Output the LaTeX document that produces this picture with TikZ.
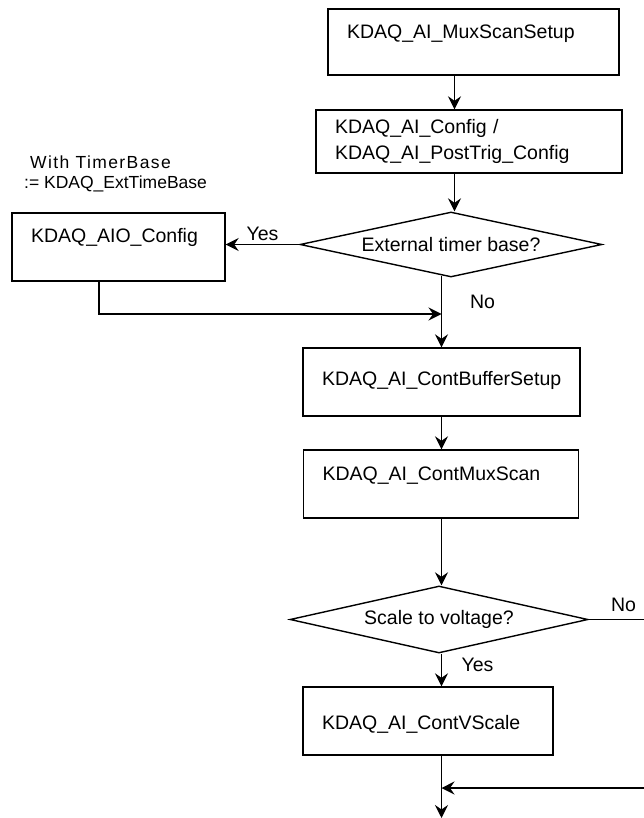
\documentclass[tikz,border=0pt]{standalone}
\usepackage{fontspec}
\setmainfont{Liberation Sans}
\usetikzlibrary{shapes.geometric,arrows.meta}

\tikzset{
  box/.style={draw, rectangle, line width=1.4pt, inner xsep=19pt, inner ysep=0pt, align=left},
  choice/.style={draw, diamond, line width=1.4pt, inner sep=0pt, shape aspect=4.6},
  flow/.style={->, line width=1.4pt}
}

\begin{document}
\begin{tikzpicture}[x=1pt,y=-1pt,>={Stealth[length=13pt,width=13pt,inset=4.5pt]},
  every node/.style={font=\fontsize{19.5}{26}\selectfont}]
  \useasboundingbox (0,0) rectangle (644,818);
  \node[box,text width=253pt,text height=30pt,text depth=36pt] (mux) at (473.5,42) {KDAQ\_AI\_MuxScanSetup};
  \node[box,text width=268pt,minimum height=63pt] (cfg) at (469,141.5) {KDAQ\_AI\_Config /\\KDAQ\_AI\_PostTrig\_Config};
  \node[choice,minimum width=302pt,minimum height=65pt] (ext) at (451,244.5) {External timer base?};
  \node[box,text width=175pt,text height=29pt,text depth=39pt] (aio) at (118.5,247) {KDAQ\_AIO\_Config};
  \node[box,text width=239pt,text height=37pt,text depth=31pt] (buf) at (441.5,382) {KDAQ\_AI\_ContBufferSetup};
  \node[box,text width=237pt,text height=30pt,text depth=38pt] (scan) at (441,484) {KDAQ\_AI\_ContMuxScan};
  \node[choice,minimum width=298pt,minimum height=67pt] (scale) at (439,619.5) {Scale to voltage?};
  \node[box,text width=212pt,text height=42pt,text depth=26pt] (vsc) at (428,721) {KDAQ\_AI\_ContVScale};
  % note on the timer base
  \node[anchor=base west,inner sep=0pt,font=\fontsize{17.5}{20}\selectfont\addfontfeature{LetterSpace=8}] (tb1) at (30,169) {With TimerBase};
  \node[anchor=base west,inner sep=0pt,font=\fontsize{17.5}{20}\selectfont] (tb2) at (24,189) {:= KDAQ\_ExtTimeBase};
  \coordinate (axis) at (454.5,0); \coordinate (join) at (441.5,314);
  \coordinate (redge) at (644,619.5); \coordinate (back) at (644,788); \coordinate (out) at (441.5,818);
  \draw[flow] (mux.south -| axis) -- (cfg.north -| axis);
  \draw[flow] (cfg.south -| axis) -- (ext.north -| axis);
  \draw[flow] (ext.west) -- (ext.west -| aio.east) node[midway,above,inner sep=3pt] (yes1) {Yes};
  \draw[flow] ([yshift=2pt]ext.south -| buf.north) -- (buf.north);
  \draw[flow] ([xshift=-19.5pt]aio.south) |- (join);
  \node (no1) at (482.5,302) {No};
  \draw[flow] (buf.south) -- (buf.south |- scan.north);
  \draw[flow] (buf.south |- scan.south) -- (buf.south |- scale.north);
  \draw[line width=1.4pt] (scale.east) -- (redge);
  \node (no2) at (623.5,605) {No};
  \draw[flow] (buf.south |- scale.south) -- (buf.south |- vsc.north);
  \node (yes2) at (477.5,665) {Yes};
  \draw[flow] (vsc.south -| out) -- (out);
  \draw[flow] (back) -- (back -| out);
\end{tikzpicture}
\end{document}
